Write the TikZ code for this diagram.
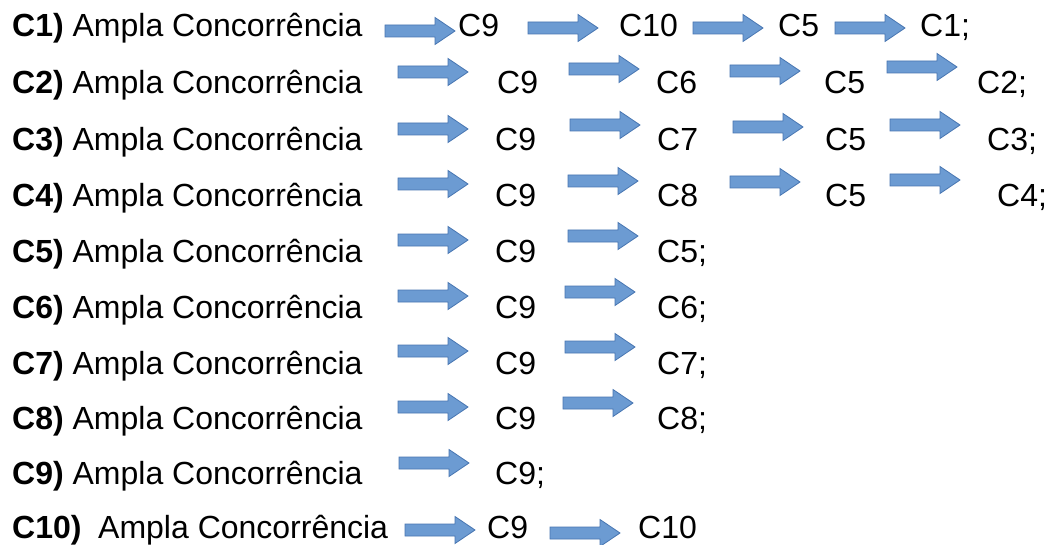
\documentclass[tikz,border=0pt]{standalone}
\usepackage{fontspec}
\setmainfont{Liberation Sans}
\definecolor{arrfill}{RGB}{108,155,210}
\definecolor{arrdraw}{RGB}{72,118,178}
\tikzset{
  lbl/.style={anchor=base west,inner sep=0pt,font=\fontsize{32}{38}\selectfont},
  blockarrow/.style={fill=arrfill,draw=arrdraw,line width=0.8pt,line join=miter}
}
\newcommand{\barr}[2]{\draw[blockarrow] (#1,#2-6) -- ++(50,0) -- ++(0,-7.5) -- ++(20,13.5) -- ++(-20,13.5) -- ++(0,-7.5) -- ++(-50,0) -- cycle;}
\begin{document}
\begin{tikzpicture}[x=1pt,y=-1pt]
\useasboundingbox (0,0) rectangle (1048,545);
\fill[white] (0,0) rectangle (1048,545);
% row 1
\node[lbl] (r1) at (12,37) {\textbf{C1)} Ampla Concorrência};
\barr{385}{31}
\node[lbl] (r1a) at (458,37) {C9};
\barr{528}{28}
\node[lbl] (r1b) at (619,37) {C10};
\barr{693}{28}
\node[lbl] (r1c) at (778,37) {C5};
\barr{835}{28}
\node[lbl] (r1d) at (920,37) {C1;};
% row 2
\node[lbl] (r2) at (12,94) {\textbf{C2)} Ampla Concorrência};
\barr{398}{72}
\node[lbl] (r2a) at (497,94) {C9};
\barr{569}{69}
\node[lbl] (r2b) at (656,94) {C6};
\barr{730}{71}
\node[lbl] (r2c) at (824,94) {C5};
\barr{887}{67}
\node[lbl] (r2d) at (977,94) {C2;};
% row 3
\node[lbl] (r3) at (12,151) {\textbf{C3)} Ampla Concorrência};
\barr{398}{129}
\node[lbl] (r3a) at (495,151) {C9};
\barr{570}{125}
\node[lbl] (r3b) at (657,151) {C7};
\barr{733}{127}
\node[lbl] (r3c) at (825,151) {C5};
\barr{890}{125}
\node[lbl] (r3d) at (987,151) {C3;};
% row 4
\node[lbl] (r4) at (12,207) {\textbf{C4)} Ampla Concorrência};
\barr{398}{184}
\node[lbl] (r4a) at (495,207) {C9};
\barr{568}{181}
\node[lbl] (r4b) at (657,207) {C8};
\barr{730}{182}
\node[lbl] (r4c) at (825,207) {C5};
\barr{890}{180}
\node[lbl] (r4d) at (997,207) {C4;};
% row 5
\node[lbl] (r5) at (12,262) {\textbf{C5)} Ampla Concorrência};
\barr{398}{240}
\node[lbl] (r5a) at (495,262) {C9};
\barr{568}{236}
\node[lbl] (r5b) at (657,262) {C5;};
% row 6
\node[lbl] (r6) at (12,318) {\textbf{C6)} Ampla Concorrência};
\barr{398}{296}
\node[lbl] (r6a) at (495,318) {C9};
\barr{565}{292}
\node[lbl] (r6b) at (657,318) {C6;};
% row 7
\node[lbl] (r7) at (12,374) {\textbf{C7)} Ampla Concorrência};
\barr{398}{351}
\node[lbl] (r7a) at (495,374) {C9};
\barr{565}{347}
\node[lbl] (r7b) at (657,374) {C7;};
% row 8
\node[lbl] (r8) at (12,429) {\textbf{C8)} Ampla Concorrência};
\barr{398}{407}
\node[lbl] (r8a) at (495,429) {C9};
\barr{563}{403}
\node[lbl] (r8b) at (657,429) {C8;};
% row 9
\node[lbl] (r9) at (12,484) {\textbf{C9)} Ampla Concorrência};
\barr{399}{463}
\node[lbl] (r9a) at (495,484) {C9;};
% row 10
\node[lbl] (r10) at (12,538) {\textbf{C10)}};
\node[lbl] (r10t) at (98,538) {Ampla Concorrência};
\barr{405}{530}
\node[lbl] (r10a) at (487,538) {C9};
\barr{550}{533}
\node[lbl] (r10b) at (638,538) {C10};
\end{tikzpicture}
\end{document}
